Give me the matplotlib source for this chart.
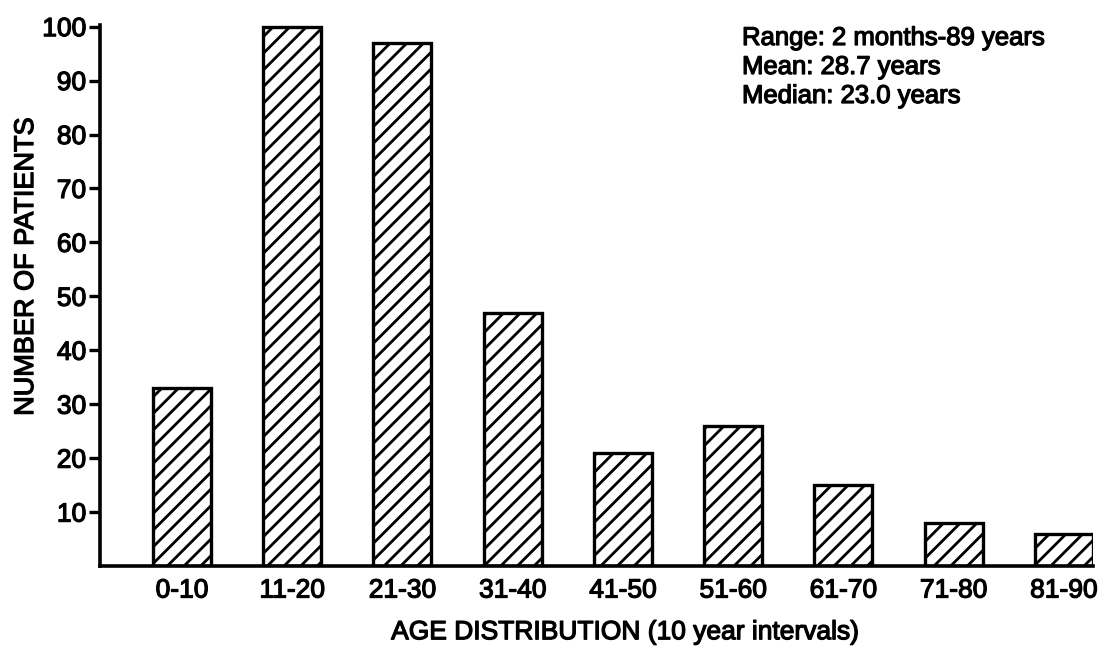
import numpy as np
import matplotlib
matplotlib.use('Agg')
import matplotlib.pyplot as plt
import matplotlib.patheffects as pe

# age groups and patient counts
age_groups = ['0-10', '11-20', '21-30', '31-40', '41-50',
              '51-60', '61-70', '71-80', '81-90']
patients = [33, 100, 97, 47, 21, 26, 15, 8, 6]
yticks = [10, 20, 30, 40, 50, 60, 70, 80, 90, 100]
notes = ['Range: 2 months-89 years', 'Mean: 28.7 years', 'Median: 23.0 years']

plt.rcParams['font.family'] = ['Liberation Sans', 'DejaVu Sans']
plt.rcParams['hatch.linewidth'] = 2.0
plt.rcParams['hatch.color'] = 'black'

# scanned print looks heavier than the regular face
ink = [pe.withStroke(linewidth=0.9, foreground='black')]

fig = plt.figure(figsize=(11.09, 6.48), dpi=100)
ax = fig.add_axes([0.0902, 0.1265, 0.8954, 0.8349])

x = np.arange(len(age_groups))
ax.bar(x, patients, width=0.525, color='white', edgecolor='black',
       linewidth=2.4, hatch='//', zorder=2)

ax.set_xlim(-0.743, 8.265)
ax.set_ylim(0, 100.3)

for s in ['top', 'right']:
    ax.spines[s].set_visible(False)
for s in ['left', 'bottom']:
    ax.spines[s].set_linewidth(2.6)
    ax.spines[s].set_zorder(3)

ax.set_yticks(yticks)
ax.set_yticklabels([str(t) for t in yticks], fontsize=19)
ax.tick_params(axis='y', length=8, width=2.4, pad=2, direction='out')
ax.set_xticks(x)
ax.set_xticklabels(age_groups, fontsize=19)
ax.tick_params(axis='x', length=0, pad=9)
for lab in ax.get_xticklabels() + ax.get_yticklabels():
    lab.set_path_effects(ink)

fig.text(0.5636, 0.0135, 'AGE DISTRIBUTION (10 year intervals)', fontsize=19,
         ha='center', va='baseline', path_effects=ink)
fig.text(0.0235, 0.589, 'NUMBER OF PATIENTS', fontsize=19.5, rotation=90,
         ha='center', va='center', path_effects=ink)

baselines = [45, 74, 103]
for line, yb in zip(notes, baselines):
    fig.text(742 / 1109, 1 - yb / 648, line, fontsize=18.5,
             ha='left', va='baseline', path_effects=ink)

fig.savefig('out.png', dpi=100, facecolor='white')
